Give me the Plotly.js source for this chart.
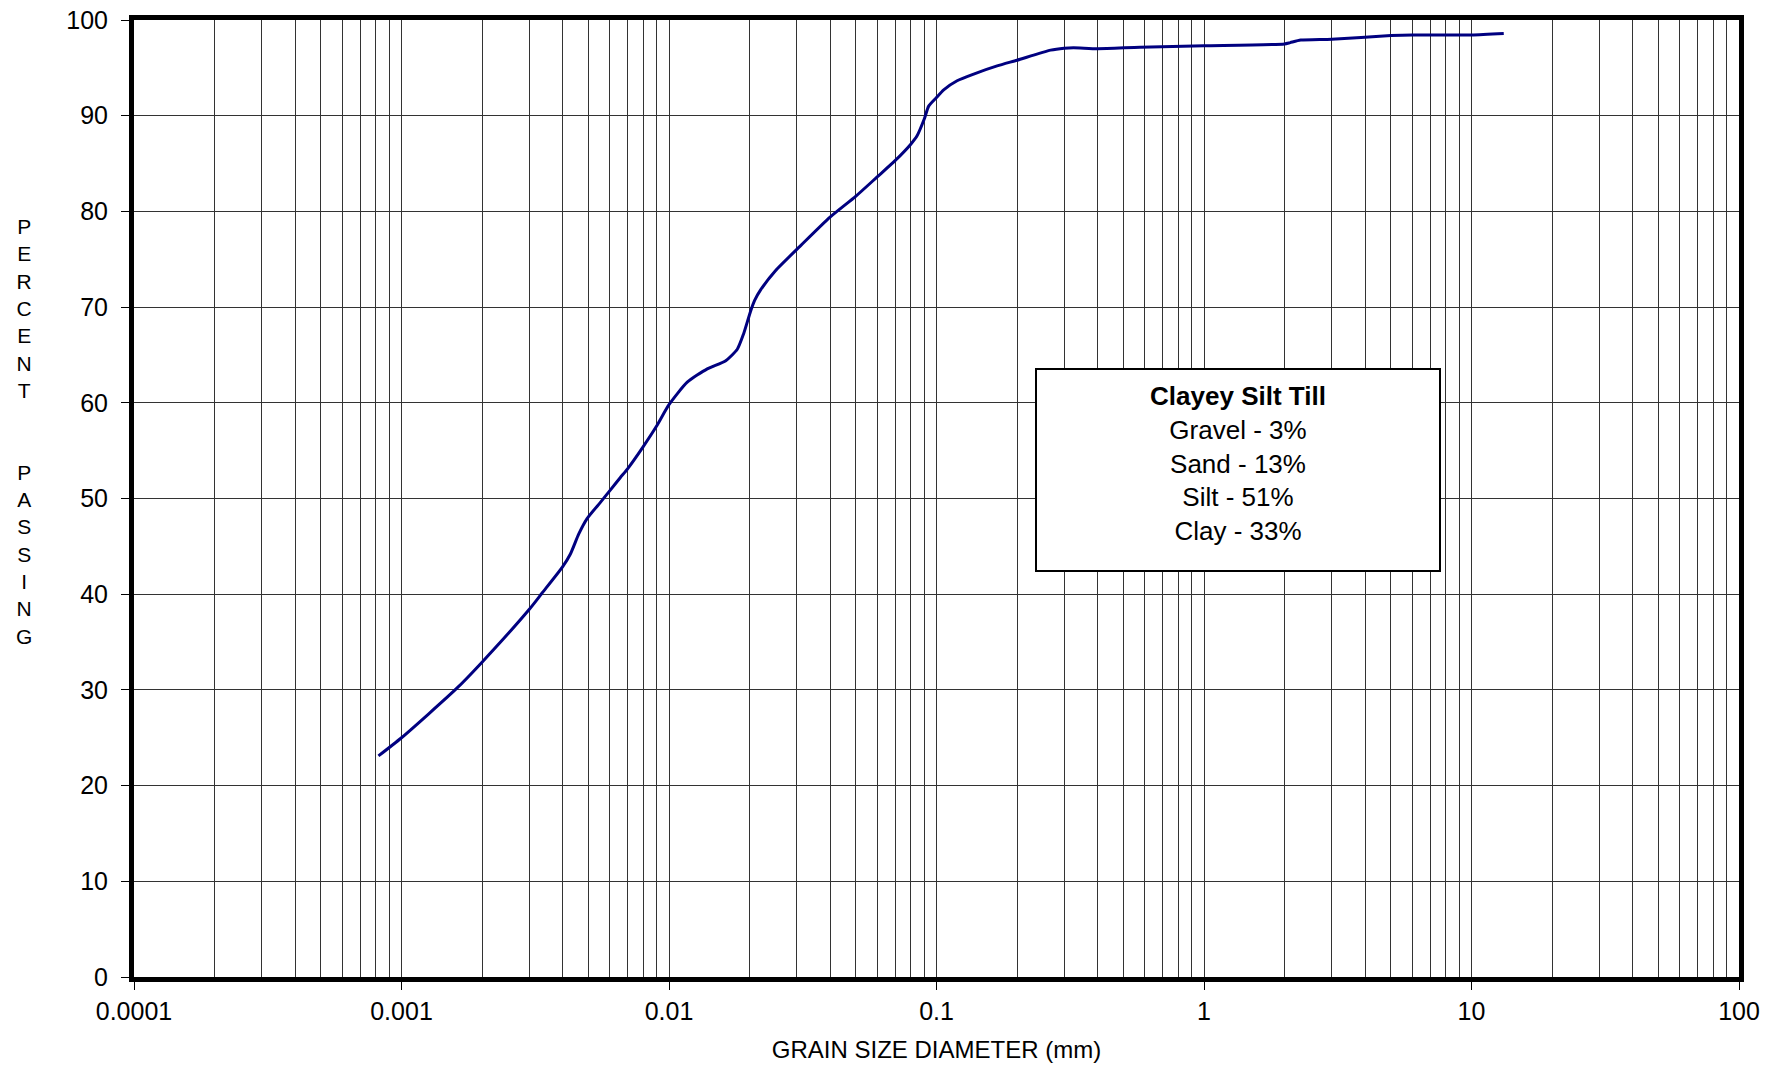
<!DOCTYPE html>
<html>
<head>
<meta charset="utf-8">
<script src="https://cdn.plot.ly/plotly-3.0.1.min.js"></script>
<style>html,body{margin:0;padding:0;background:#fff;}#chart{width:1775px;height:1065px;}</style>
</head>
<body>
<div id="chart"></div>
<script>
// Grain size distribution
const grainSize = [0.00082, 0.001, 0.0016, 0.002, 0.003, 0.00335, 0.004, 0.00428, 0.0046, 0.00494,
  0.00554, 0.006, 0.00658, 0.007, 0.008, 0.009, 0.01, 0.0117, 0.0139, 0.0163, 0.018, 0.019, 0.0202, 0.0209,
  0.022, 0.025, 0.031, 0.04, 0.05, 0.06, 0.07, 0.08, 0.0846, 0.09, 0.0935, 0.1, 0.1064, 0.1194, 0.1377,
  0.1685, 0.2, 0.267, 0.3, 0.325, 0.4, 0.576, 1, 2, 2.1, 2.3, 3, 5, 6, 10, 13.2];
const percentPassing = [23.1, 25.0, 30.1, 32.9, 38.4, 40.1, 42.85, 44.2, 46.3, 47.9,
  49.6, 50.8, 52.2, 53.1, 55.4, 57.6, 59.8, 62.15, 63.55, 64.4, 65.6, 67.2, 69.6, 70.7,
  71.8, 73.8, 76.4, 79.4, 81.6, 83.6, 85.3, 87.0, 87.9, 89.65, 91.0, 91.9, 92.7, 93.65, 94.35,
  95.2, 95.8, 96.85, 97.05, 97.1, 97.0, 97.15, 97.3, 97.5, 97.64, 97.9, 98.0, 98.37, 98.44, 98.44, 98.6];

const xTickVals = [0.0001, 0.001, 0.01, 0.1, 1, 10, 100];
const xTickText = ['0.0001', '0.001', '0.01', '0.1', '1', '10', '100'];
const yTickVals = [0, 10, 20, 30, 40, 50, 60, 70, 80, 90, 100];

const boxTitle = 'Clayey Silt Till';
const fractionNames = ['Gravel', 'Sand', 'Silt', 'Clay'];
const fractionPercents = [3, 13, 51, 33];

const xTitle = 'GRAIN SIZE DIAMETER (mm)';
const yTitleWords = ['PERCENT', 'PASSING'];

// minor gridlines: 2..9 within each decade
const minorVals = [];
for (let i = 0; i < xTickVals.length - 1; i++) {
  for (let m = 2; m <= 9; m++) minorVals.push(+(xTickVals[i] * m).toPrecision(6));
}

const FONT = 'Liberation Sans, Arial, Helvetica, sans-serif';
const GRID = '#333333';

const trace = {
  x: grainSize,
  y: percentPassing,
  type: 'scatter',
  mode: 'lines',
  line: {color: '#000080', width: 3, shape: 'spline', smoothing: 0.6},
  hoverinfo: 'x+y',
  showlegend: false
};

const boxText = '<b>' + boxTitle + '</b><br>' +
  fractionNames.map((n, i) => n + ' - ' + fractionPercents[i] + '%').join('<br>');

const yTitleText = yTitleWords[0].split('').join('<br>') + '<br> <br> <br>' + yTitleWords[1].split('').join('<br>');

const layout = {
  width: 1775,
  height: 1065,
  margin: {l: 134, r: 36, t: 20, b: 88},
  paper_bgcolor: '#ffffff',
  plot_bgcolor: '#ffffff',
  font: {family: FONT, color: '#000000'},
  showlegend: false,
  xaxis: {
    type: 'log',
    range: [-4, 2],
    tickmode: 'array',
    tickvals: xTickVals,
    ticktext: xTickText,
    ticks: 'outside',
    ticklen: 8,
    tickwidth: 1,
    tickcolor: '#000000',
    tickfont: {size: 25, family: FONT, color: '#000000'},
    showgrid: true,
    gridcolor: GRID,
    gridwidth: 1,
    minor: {tickmode: 'array', tickvals: minorVals, showgrid: true, gridcolor: GRID, gridwidth: 1, ticks: ''},
    showline: true,
    linecolor: '#000000',
    linewidth: 5,
    mirror: true,
    zeroline: false,
    title: {text: xTitle, font: {size: 24, family: FONT, color: '#000000'}, standoff: 19}
  },
  yaxis: {
    range: [0, 100],
    tickmode: 'array',
    tickvals: yTickVals,
    ticks: 'outside',
    ticklen: 8,
    tickwidth: 1,
    tickcolor: '#000000',
    tickfont: {size: 25, family: FONT, color: '#000000'},
    ticklabelstandoff: 8,
    showgrid: true,
    gridcolor: GRID,
    gridwidth: 1,
    showline: true,
    linecolor: '#000000',
    linewidth: 5,
    mirror: true,
    zeroline: false
  },
  annotations: [
    {
      xref: 'paper', yref: 'paper',
      x: 0.6879, y: 0.5303,
      xanchor: 'center', yanchor: 'middle',
      text: boxText,
      showarrow: false,
      align: 'center',
      valign: 'top',
      width: 380,
      height: 178,
      bgcolor: '#ffffff',
      bordercolor: '#000000',
      borderwidth: 2,
      borderpad: 11,
      font: {size: 26, family: FONT, color: '#000000'}
    },
    {
      xref: 'paper', yref: 'paper',
      x: -0.0687, y: 0.5695,
      xanchor: 'center', yanchor: 'middle',
      text: yTitleText,
      showarrow: false,
      align: 'center',
      font: {size: 21, family: FONT, color: '#000000'}
    }
  ]
};

Plotly.newPlot('chart', [trace], layout, {displayModeBar: false, staticPlot: true});
</script>
</body>
</html>
